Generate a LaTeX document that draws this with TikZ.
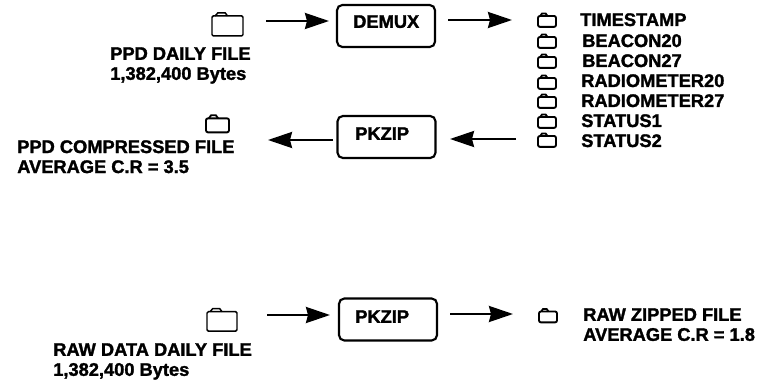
\documentclass[tikz,border=0pt]{standalone}
\usepackage{fontspec}
\setmainfont[BoldFeatures={FakeBold=1.6}]{Liberation Sans}
\usetikzlibrary{arrows.meta}
\tikzset{x=0.75pt,y=-0.75pt,
 lab/.style={font=\bfseries\fontsize{13.7}{15}\selectfont,align=left,inner sep=0pt},
 box/.style={draw,line width=1.6pt,rounded corners=4pt,minimum width=73.5pt,minimum height=31.5pt,inner sep=0pt},
 conn/.style={line width=1.8pt,-{Stealth[length=18pt,width=12pt,inset=1.5pt]}},
 folder/.pic={\draw[line width=1.1pt,rounded corners=1pt] (-#1,-0.52*#1) rectangle (#1,0.77*#1);
   \draw[line width=1.1pt] (-0.8*#1,-0.52*#1) -- (-0.62*#1,-0.72*#1) -- (-0.15*#1,-0.72*#1) -- (0,-0.52*#1);},
 smallfolder/.pic={\draw[line width=1.4pt,rounded corners=1.5pt] (-#1,-0.45*#1) rectangle (#1,0.77*#1);
   \draw[line width=1.4pt] (-0.75*#1,-0.45*#1) -- (-0.55*#1,-0.72*#1) -- (-0.15*#1,-0.72*#1) -- (0.05*#1,-0.45*#1);},
}
\begin{document}
\begin{tikzpicture}
\useasboundingbox (0,0) rectangle (760,381);
\node[box] (demux) at (386,26) {};
\node[lab,anchor=north west] (ldemux) at (353,15) {DEMUX};
\node[box] (pkzipa) at (386.5,137) {};
\node[lab,anchor=north west] (lpkzipa) at (355,127) {PKZIP};
\node[box] (pkzipb) at (388,319.5) {};
\node[lab,anchor=north west] (lpkzipb) at (355,310) {PKZIP};
\coordinate (fa) at (266,21);
\coordinate (ta) at (329,21);
\coordinate (ob) at (448,20);
\coordinate (tb) at (512,20);
\coordinate (ic) at (516,139);
\coordinate (ec) at (450,139);
\coordinate (sd) at (333,140);
\coordinate (ed) at (268,140);
\coordinate (fe) at (267,315);
\coordinate (te) at (330,315);
\coordinate (of) at (450,314);
\coordinate (tf) at (513,314);
\draw[conn] (fa) -- (ta);
\draw[conn] (ob) -- (tb);
\draw[conn] (ic) -- (ec);
\draw[conn] (sd) -- (ed);
\draw[conn] (fe) -- (te);
\draw[conn] (of) -- (tf);
\pic at (227.5,24) {folder=15.5};
\pic at (217.5,123.5) {smallfolder=11.5};
\pic at (222,319.5) {folder=15};
\foreach \y in {20,41,61,82,101,121,140} \pic at (547,\y) {smallfolder=9};
\pic at (548,315.5) {smallfolder=9};
\node[lab,anchor=north west] (a) at (110,47) {PPD DAILY FILE\\1,382,400 Bytes};
\node[lab,anchor=north west] (b) at (17,140) {PPD COMPRESSED FILE\\AVERAGE C.R = 3.5};
\node[lab,anchor=north west] (c) at (53,343) {RAW DATA DAILY FILE\\1,382,400 Bytes};
\node[lab,anchor=base west] (l1) at (580,26) {TIMESTAMP};
\node[lab,anchor=base west] (l2) at (582,47) {BEACON20};
\node[lab,anchor=base west] (l3) at (582,67) {BEACON27};
\node[lab,anchor=base west] (l4) at (581,87) {RADIOMETER20};
\node[lab,anchor=base west] (l5) at (581,107) {RADIOMETER27};
\node[lab,anchor=base west] (l6) at (581,127) {STATUS1};
\node[lab,anchor=base west] (l7) at (581,147) {STATUS2};
\node[lab,anchor=north west] (d) at (583,308) {RAW ZIPPED FILE\\AVERAGE C.R = 1.8};
\end{tikzpicture}
\end{document}
